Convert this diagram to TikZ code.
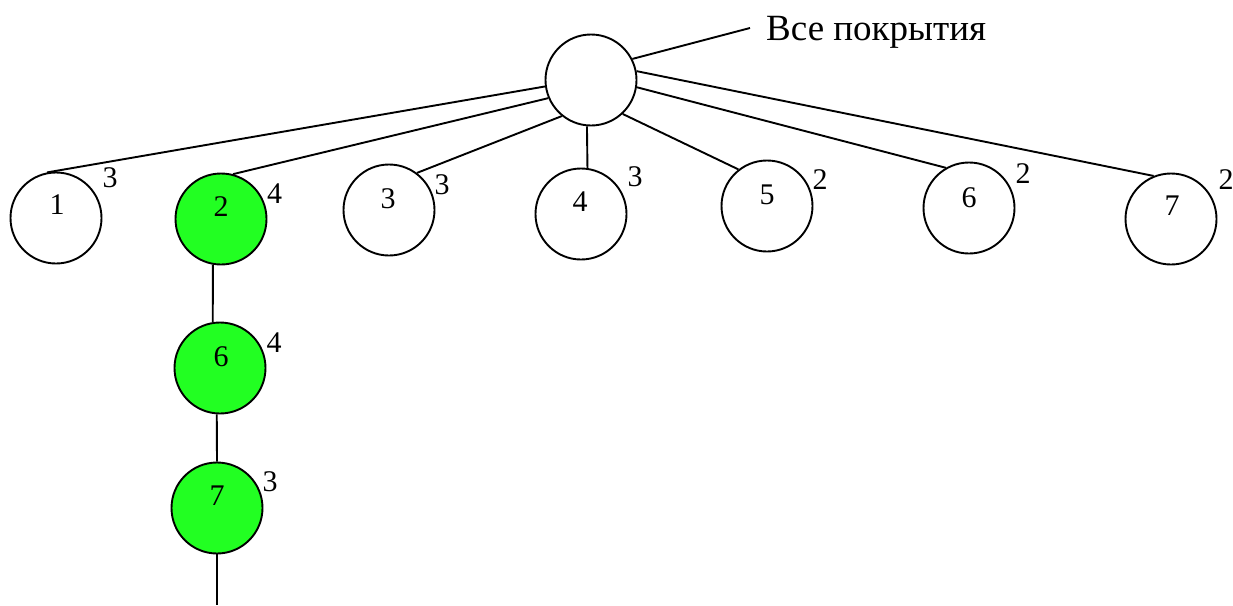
\documentclass[tikz,border=0pt]{standalone}
\usepackage{fontspec}
\setmainfont{Liberation Serif}
\definecolor{nodegreen}{RGB}{34,255,34}
\begin{document}
\begin{tikzpicture}[x=1pt,y=-1pt,
  vert/.style={circle,draw=black,line width=1.9pt,minimum size=91pt,inner sep=0pt},
  hit/.style={vert,fill=nodegreen},
  num/.style={inner sep=0pt,font=\fontsize{30}{30}\selectfont},
  wt/.style={inner sep=0pt,font=\fontsize{30}{30}\selectfont},
  edge/.style={line width=1.9pt}]
\useasboundingbox (0,0) rectangle (1233,605);
% circles
\node[vert] (r) at (591,80) {};
\node[vert] (c1) at (56,218) {};
\node[hit]  (c2) at (221,219) {};
\node[vert] (c3) at (389,210) {};
\node[vert] (c4) at (581,214) {};
\node[vert] (c5) at (767,206) {};
\node[vert] (c6) at (969,208) {};
\node[vert] (c7) at (1171,219) {};
\node[hit]  (g6) at (220,368) {};
\node[hit]  (g7) at (217,508) {};
% numbers in circles
\node[num] (n1) at (57,205) {1};
\node[num] (n2) at (221,207) {2};
\node[num] (n3) at (388,199) {3};
\node[num] (n4) at (580,202) {4};
\node[num] (n5) at (767,195) {5};
\node[num] (n6) at (969,198) {6};
\node[num] (n7) at (1172,206) {7};
\node[num] (m6) at (221,357) {6};
\node[num] (m7) at (217,496) {7};
% weights
\node[wt] (w1) at (110,177.5) {3};
\node[wt] (w2) at (274.5,194) {4};
\node[wt] (w3) at (442,185) {3};
\node[wt] (w4) at (635,177) {3};
\node[wt] (w5) at (820,180) {2};
\node[wt] (w6) at (1023,174) {2};
\node[wt] (w7) at (1226,180) {2};
\node[wt] (v6) at (274,343) {4};
\node[wt] (v7) at (270,482) {3};
% label
\node[inner sep=0pt,anchor=base west,font=\fontsize{37}{37}\selectfont] (lab) at (766,40) {Все покрытия};
\coordinate (labend) at (750,28);
\coordinate (bottom) at (217,605);
% connectors
\draw[edge] (r.27.6) -- (labend);
\draw[edge] (r.188.7) -- (c1.101);
\draw[edge] (r.203.5) -- (c2.75);
\draw[edge] (r.231.9) -- (c3.53.6);
\draw[edge] (r.265) -- (c4.82.5);
\draw[edge] (r.313.4) -- (c5.128.3);
\draw[edge] (r.351.5) -- (c6.120);
\draw[edge] (r.11) -- (c7.112.4);
\draw[edge] (c2.260) -- (g6.99);
\draw[edge] (g6.266) -- (g7.90);
\draw[edge] (g7.south) -- (bottom);
\end{tikzpicture}
\end{document}
